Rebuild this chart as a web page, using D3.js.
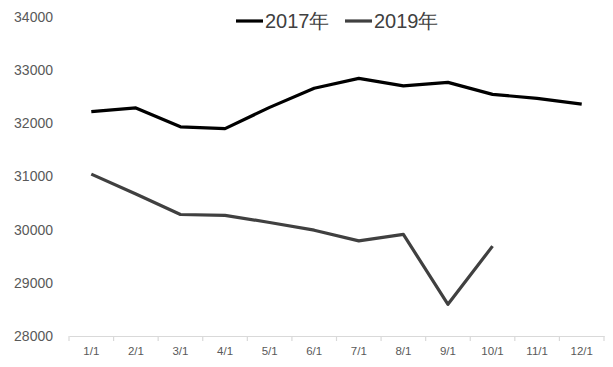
<!DOCTYPE html>
<html><head><meta charset="utf-8">
<script src="https://cdnjs.cloudflare.com/ajax/libs/d3/7.8.5/d3.min.js"></script>
<style>body{margin:0;background:#fff;}svg{display:block;}</style>
</head><body>
<script>
const categories = ["1/1","2/1","3/1","4/1","5/1","6/1","7/1","8/1","9/1","10/1","11/1","12/1"];
const series2017 = [32220,32290,31935,31900,32300,32660,32845,32705,32770,32545,32470,32360];
const series2019 = [31045,30670,30285,30270,30135,29990,29790,29910,28596,29690];
const yTicks = [28000,29000,30000,31000,32000,33000,34000];
const seriesNames = ["2017年","2019年"];
const colors = ["#000000","#404040"];

const W=613,H=367;
const m={left:69,right:9,top:17,bottom:31};
const svg=d3.select("body").append("svg").attr("width",W).attr("height",H);
const x=d3.scaleBand().domain(categories).range([m.left,W-m.right]);
const y=d3.scaleLinear().domain([28000,34000]).range([H-m.bottom,m.top]);

const font="'Liberation Sans', Arial, sans-serif";
// y axis labels
const ya=svg.append("g").attr("transform",`translate(${m.left},0)`)
  .call(d3.axisLeft(y).tickValues(yTicks).tickSize(0).tickPadding(16).tickFormat(d3.format("d")));
ya.select(".domain").remove();
ya.selectAll("text").attr("font-family",font).attr("font-size",14).attr("fill","#595959");

// x axis
const xa=svg.append("g").attr("transform",`translate(0,${H-m.bottom})`)
  .call(d3.axisBottom(x).tickSize(0).tickPadding(11));
xa.select(".domain").attr("stroke","#d9d9d9").attr("stroke-width",1.2);
xa.selectAll("text").attr("font-family",font).attr("font-size",11.5).attr("fill","#595959");
const edges=categories.map(c=>x(c)).concat([x(categories[categories.length-1])+x.bandwidth()]);
xa.selectAll(".edge").data(edges).enter().append("line")
  .attr("x1",d=>d).attr("x2",d=>d).attr("y1",0).attr("y2",5)
  .attr("stroke","#d9d9d9").attr("stroke-width",1.2);

const line=d3.line().x((d,i)=>x(categories[i])+x.bandwidth()/2).y(d=>y(d));
[series2017,series2019].forEach((s,k)=>{
  svg.append("path").datum(s).attr("d",line).attr("fill","none")
    .attr("stroke",colors[k]).attr("stroke-width",3.2).attr("stroke-linejoin","round");
});

// legend
const lg=svg.append("g");
const lx=[236,345];
seriesNames.forEach((n,k)=>{
  lg.append("line").attr("x1",lx[k]).attr("x2",lx[k]+27).attr("y1",21).attr("y2",21)
    .attr("stroke",colors[k]).attr("stroke-width",3.2);
  lg.append("text").attr("x",lx[k]+29).attr("y",28).text(n)
    .attr("font-family",font).attr("font-size",20).attr("fill","#404040");
});
</script>
</body></html>
